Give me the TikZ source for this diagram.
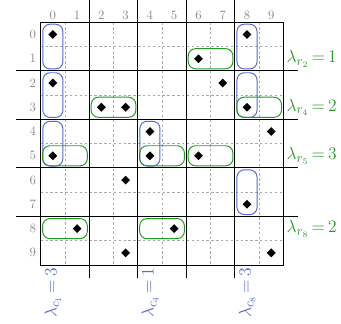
\documentclass[tikz,border=0pt]{standalone}
\usepackage{amsmath}
\usepackage{tikz}
\usetikzlibrary{shapes.geometric}
\definecolor{BoxBlue}{RGB}{85,105,215}
\definecolor{BoxGreen}{RGB}{35,155,35}
\definecolor{LabelGray}{RGB}{140,140,140}

\begin{document}
\begin{tikzpicture}[x=0.7cm,y=-0.7cm,
	gem/.style={diamond,fill=black,inner sep=0pt,minimum size=2.6mm},
	colbox/.style={rectangle,draw=BoxBlue,thick,rounded corners=6pt,minimum width=0.58cm,minimum height=1.29cm},
	rowbox/.style={rectangle,draw=BoxGreen,thick,rounded corners=6pt,minimum width=1.29cm,minimum height=0.58cm},
	idx/.style={text=LabelGray,font=\fontsize{10.5}{12}\selectfont},
	lam/.style={font=\fontsize{15}{17}\selectfont,inner sep=2.5pt}]
	\useasboundingbox (-1.677,-0.919) rectangle (12.373,12.43);
	% fine grid
	\foreach \i in {1,3,5,7,9} {
		\draw[LabelGray!75,dash pattern=on 2pt off 2pt] (\i,0) -- (\i,10);
		\draw[LabelGray!75,dash pattern=on 2pt off 2pt] (0,\i) -- (10,\i);
	}
	% blocks
	\foreach \i in {2,4,6,8} {
		\draw[thick] (\i,-1) -- (\i,10.55);
		\draw[thick] (-1,\i) -- (10.6,\i);
	}
	\draw[thick] (0,0) rectangle (10,10);
	\foreach \i in {0,...,9} {
		\node[idx] (c\i) at (\i+0.5,-0.3) {\i};
		\node[idx] (r\i) at (-0.32,\i+0.5) {\i};
	}
	% column boxes
	\node[colbox] (v0a) at (0.5,1) {};
	\node[colbox] (v0b) at (0.5,3) {};
	\node[colbox] (v0c) at (0.5,5) {};
	\node[colbox] (v4a) at (4.5,5) {};
	\node[colbox] (v8a) at (8.5,1) {};
	\node[colbox] (v8b) at (8.5,3) {};
	\node[colbox] (v8c) at (8.5,7) {};
	% row boxes
	\node[rowbox] (h1a) at (7,1.5) {};
	\node[rowbox] (h3a) at (3,3.5) {};
	\node[rowbox] (h3b) at (9,3.5) {};
	\node[rowbox] (h5a) at (1,5.5) {};
	\node[rowbox] (h5b) at (5,5.5) {};
	\node[rowbox] (h5c) at (7,5.5) {};
	\node[rowbox] (h8a) at (1,8.5) {};
	\node[rowbox] (h8b) at (5,8.5) {};
	% entries
	\foreach \c/\r in {0/0,8/0,6/1,0/2,7/2,2/3,3/3,8/3,4/4,9/4,0/5,4/5,6/5,3/6,8/7,1/8,5/8,3/9,9/9}
		\node[gem] (d\c\r) at (\c+0.5,\r+0.5) {};
	% weights
	\node[lam,text=BoxGreen,anchor=west] (lr2) at (10,1.5) {$\lambda_{r_2}\,{=}\,1$};
	\node[lam,text=BoxGreen,anchor=west] (lr4) at (10,3.5) {$\lambda_{r_4}\,{=}\,2$};
	\node[lam,text=BoxGreen,anchor=west] (lr5) at (10,5.5) {$\lambda_{r_5}\,{=}\,3$};
	\node[lam,text=BoxGreen,anchor=west] (lr8) at (10,8.5) {$\lambda_{r_8}\,{=}\,2$};
	\node[lam,text=BoxBlue,rotate=90,anchor=east] (lc1) at (0.5,10) {$\lambda_{c_1}\,{=}\,3$};
	\node[lam,text=BoxBlue,rotate=90,anchor=east] (lc4) at (4.5,10) {$\lambda_{c_4}\,{=}\,1$};
	\node[lam,text=BoxBlue,rotate=90,anchor=east] (lc8) at (8.5,10) {$\lambda_{c_8}\,{=}\,3$};
\end{tikzpicture}
\end{document}
